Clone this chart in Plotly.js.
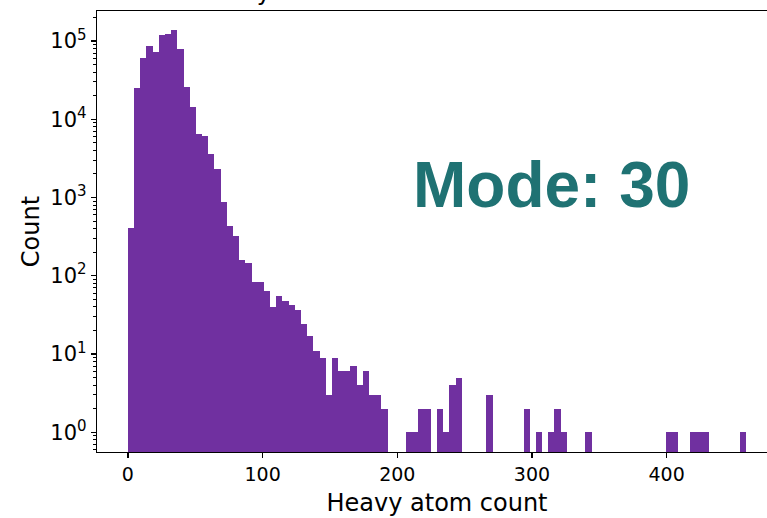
<!DOCTYPE html>
<html>
<head>
<meta charset="utf-8">
<script src="https://cdn.plot.ly/plotly-3.0.1.min.js"></script>
<style>
  html, body { margin: 0; padding: 0; background: #ffffff; overflow: hidden; }
  #chart { width: 800px; height: 518px; }
</style>
</head>
<body>
<div id="chart"></div>
<script>
// ---- data ----
const binMin = 0;
const binMax = 459;
const binCounts = [
  405, 25000, 61000, 86000, 73000, 118000, 123000, 138000, 78000, 26000,
  14200, 6500, 6100, 3600, 2300, 870, 433, 322, 161, 144,
  83, 84, 64, 40, 55, 48, 42, 37, 24, 17,
  11, 9, 3, 9, 6, 6, 7, 4, 6, 3,
  3, 2, 0, 0, 0, 1, 1, 2, 2, 0,
  2, 1, 4, 5, 0, 0, 0, 0, 3, 0,
  0, 0, 0, 0, 2, 0, 1, 0, 1, 2,
  1, 0, 0, 0, 1, 0, 0, 0, 0, 0,
  0, 0, 0, 0, 0, 0, 0, 1, 1, 0,
  0, 1, 1, 1, 0, 0, 0, 0, 0, 1
];
const xTickVals = [0, 100, 200, 300, 400];
const xTickText = ['0', '100', '200', '300', '400'];
const yTickVals = [1, 10, 100, 1000, 10000, 100000];
const yTickExps = ['0', '1', '2', '3', '4', '5'];
const modeLabel = 'Mode: 30';
const titleText = 'Heavy atom count distribution';
const xLabel = 'Heavy atom count';
const yLabel = 'Count';

// ---- derived bin geometry ----
const nBins = binCounts.length;
const binWidth = (binMax - binMin) / nBins;
const centers = binCounts.map((_, i) => binMin + (i + 0.5) * binWidth);
const yVals = binCounts.map(c => (c > 0 ? c : null));
const yTickText = yTickExps.map(e => '10<sup><span style="font-size:15px">' + e + '</span></sup>');

const trace = {
  type: 'bar',
  x: centers,
  y: yVals,
  width: binWidth,
  marker: { color: '#7030a0', line: { width: 0 } },
  hoverinfo: 'x+y'
};

const span = binMax - binMin;
const layout = {
  width: 800,
  height: 518,
  margin: { l: 97, r: 23, t: 11, b: 66 },
  paper_bgcolor: '#ffffff',
  plot_bgcolor: '#ffffff',
  showlegend: false,
  bargap: 0,
  font: { family: 'DejaVu Sans', color: '#000000' },
  xaxis: {
    range: [binMin - 0.05 * span, binMax + 0.05 * span],
    tickvals: xTickVals,
    ticktext: xTickText,
    ticks: 'outside',
    ticklen: 5,
    tickwidth: 1.2,
    tickcolor: '#000000',
    tickfont: { size: 19, family: 'DejaVu Sans', color: '#000000' },
    showline: true,
    linecolor: '#000000',
    linewidth: 1.2,
    mirror: true,
    showgrid: false,
    zeroline: false,
    title: { text: xLabel, font: { size: 24, family: 'DejaVu Sans', color: '#000000' }, standoff: 10 }
  },
  yaxis: {
    type: 'log',
    range: [-0.252, 5.383],
    tickvals: yTickVals,
    ticktext: yTickText,
    ticks: 'outside',
    ticklen: 5,
    tickwidth: 1.2,
    tickcolor: '#000000',
    tickfont: { size: 21, family: 'DejaVu Sans', color: '#000000' },
    minor: { dtick: 'D1', ticks: 'outside', ticklen: 3, tickwidth: 1, tickcolor: '#000000', showgrid: false },
    showline: true,
    linecolor: '#000000',
    linewidth: 1.2,
    mirror: true,
    showgrid: false,
    zeroline: false,
    title: { text: yLabel, font: { size: 24, family: 'DejaVu Sans', color: '#000000' }, standoff: 4 }
  },
  annotations: [
    {
      text: modeLabel,
      xref: 'paper', yref: 'paper',
      x: 0.669, y: 0.605,
      xanchor: 'center', yanchor: 'middle',
      showarrow: false,
      font: { family: 'Liberation Sans', size: 64, color: '#1f7273', weight: 'bold' }
    },
    {
      text: titleText,
      xref: 'paper', yref: 'paper',
      x: (193 - 97) / 680, y: 1,
      xanchor: 'left', yanchor: 'bottom',
      yshift: 3,
      showarrow: false,
      font: { family: 'DejaVu Sans', size: 24, color: '#000000' }
    }
  ]
};

Plotly.newPlot('chart', [trace], layout, { staticPlot: true, displayModeBar: false });
</script>
</body>
</html>
